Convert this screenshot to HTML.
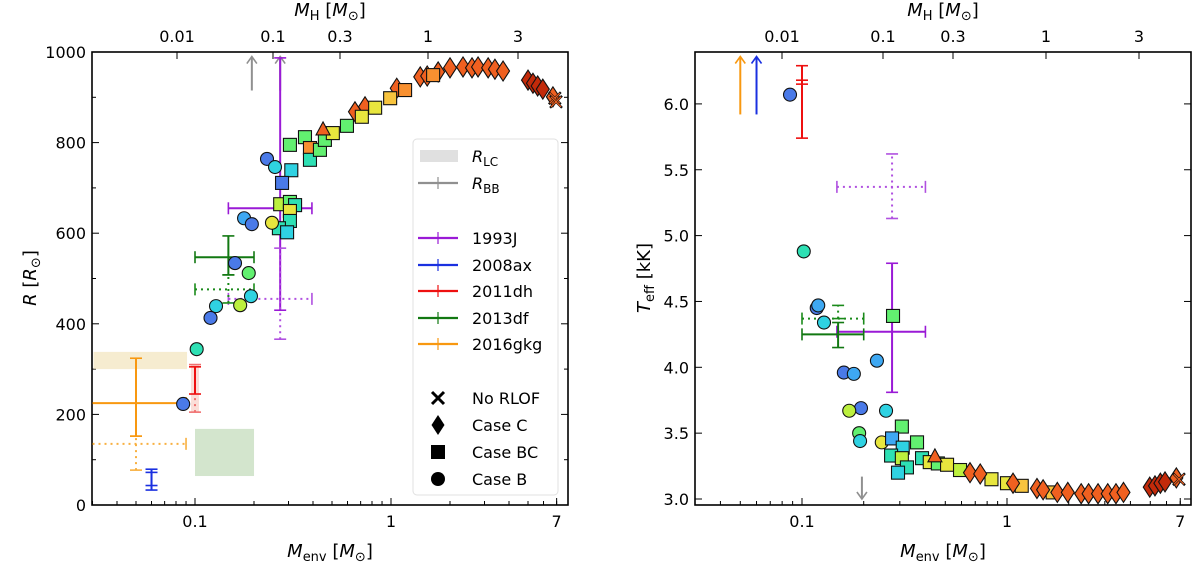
<!DOCTYPE html>
<html><head><meta charset="utf-8">
<style>
body{margin:0;background:#fff;}
svg{display:block;font-family:"DejaVu Sans","Liberation Sans",sans-serif;}
</style></head>
<body>
<svg id="fig" width="1200" height="562" viewBox="0 0 1200 562"></svg>
<script>
// ---------- DATA ----------
const colors = {bl:'#4a7ae8',lb:'#3ea8f2',cy:'#2fd2e2',te:'#2ee0b4',gr:'#62f070',yg:'#bcf03e',ye:'#e8e63e',yo:'#f8c43e',or:'#f89030',ro:'#f06020',dr:'#c22a0a'};
const leftMenv = [0.655,0.737,1.07,1.41,1.53,1.74,2.0,2.33,2.59,2.78,3.13,3.39,3.73,5.0,5.3,5.6,5.95,6.7,
 0.305,0.364,0.386,0.386,0.434,0.46,0.505,0.596,0.71,0.83,0.99,1.18,1.64,
 0.31,0.278,0.272,0.305,0.324,0.305,0.305,0.268,0.295,
 0.233,0.256,0.178,0.195,0.247,0.16,0.188,0.193,0.17,0.128,0.12,0.102,0.087,
 0.45,6.85,6.95];
const leftR = [868,879,920,945,947,956,965,967,965,967,965,962,958,938,931,925,918,901,
 795,812,788,762,784,806,821,837,857,877,898,916,949,
 739,711,664,669,662,649,627,611,602,
 764,746,633,620,623,534,512,461,441,439,413,344,223,
 828,898,890];
const leftShape = ['d','d','d','d','d','d','d','d','d','d','d','d','d','d','d','d','d','d',
 's','s','s','s','s','s','s','s','s','s','s','s','s',
 's','s','s','s','s','s','s','s','s',
 'c','c','c','c','c','c','c','c','c','c','c','c','c',
 't','x','x'];
const leftColor = ['ro','ro','ro','ro','ro','ro','ro','ro','ro','ro','ro','ro','ro','dr','dr','dr','dr','ro',
 'gr','gr','or','te','gr','gr','ye','gr','ye','ye','yo','or','or',
 'cy','bl','yg','gr','te','ye','te','te','cy',
 'bl','cy','lb','bl','ye','bl','gr','cy','yg','cy','bl','te','bl',
 'ro','ro','ro'];
const rightMenv = [0.0874,0.102,0.118,0.12,0.128,0.232,0.16,0.179,0.194,0.17,0.257,0.19,0.192,0.245,
 0.278,0.307,0.275,0.31,0.364,0.272,0.307,0.325,0.294,0.385,0.42,0.46,0.51,0.59,0.84,1.0,1.18,1.67,
 0.66,0.74,1.07,1.4,1.5,1.76,1.98,2.3,2.5,2.78,3.1,3.4,3.7,4.97,5.27,5.6,5.9,6.7,
 0.445,6.9];
const rightT = [6.07,4.88,4.45,4.47,4.34,4.05,3.96,3.95,3.69,3.67,3.67,3.5,3.44,3.43,
 4.39,3.55,3.46,3.39,3.43,3.33,3.31,3.24,3.2,3.31,3.28,3.27,3.26,3.22,3.15,3.12,3.1,3.05,
 3.2,3.19,3.12,3.08,3.07,3.05,3.05,3.04,3.04,3.04,3.04,3.04,3.05,3.09,3.1,3.12,3.13,3.16,
 3.32,3.15];
const rightShape = ['c','c','c','c','c','c','c','c','c','c','c','c','c','c',
 's','s','s','s','s','s','s','s','s','s','s','s','s','s','s','s','s','s',
 'd','d','d','d','d','d','d','d','d','d','d','d','d','d','d','d','d','d',
 't','x'];
const rightColor = ['bl','te','bl','lb','cy','lb','bl','lb','bl','yg','cy','gr','cy','ye',
 'gr','gr','lb','cy','gr','te','yg','te','cy','te','ye','gr','ye','yg','ye','ye','yo','yo',
 'ro','ro','ro','ro','ro','ro','ro','ro','ro','ro','ro','ro','ro','dr','dr','dr','dr','ro',
 'ro','ro'];
const rTicks = [0,200,400,600,800,1000];
const tTicks = [3.0,3.5,4.0,4.5,5.0,5.5,6.0];
const xTickVals = [0.1,1,7];
const topTickLabels = ['0.01','0.1','0.3','1','3'];
const topTickLeftPx = [177,273,340,428,518];
const topTickRightPx = [782,883,953,1046,1139];

// ---------- AXES ----------
const NS='http://www.w3.org/2000/svg';
const svg=document.getElementById('fig');
const L={x0:92,x1:568,y0:52,y1:505};
const R={x0:695,x1:1191,y0:52,y1:505};
const xL=m=>391+196*Math.log10(m);
const yL=r=>505-r*0.453;
const xR=m=>1007+205*Math.log10(m);
const yR=t=>499-(t-3)*131.7;
function el(tag,attrs,parent){const e=document.createElementNS(NS,tag);for(const k in attrs)e.setAttribute(k,attrs[k]);(parent||svg).appendChild(e);return e;}
function txt(s,x,y,attrs,parent){const t=el('text',Object.assign({x:x,y:y,'font-size':16,fill:'#000'},attrs||{}),parent);t.textContent=s;return t;}

function frame(P,name){
  const g=el('g',{});
  
  
  el('rect',{x:P.x0,y:P.y0,width:P.x1-P.x0,height:P.y1-P.y0,fill:'none',stroke:'#000','stroke-width':1.6},g);
  return g;
}
function xTicks(P,xf,g){
  for(let d=-2;d<=0;d++)for(let k=1;k<=9;k++){
    const v=k*Math.pow(10,d);const x=xf(v);if(x<P.x0||x>P.x1)continue;
    const len=(k===1)?7:4;
    el('line',{x1:x,x2:x,y1:P.y1,y2:P.y1-len,stroke:'#000','stroke-width':1},g);
  }
  xTickVals.forEach(v=>{const x=xf(v);el('line',{x1:x,x2:x,y1:P.y1,y2:P.y1-7,stroke:'#000','stroke-width':1},g);
    const t=txt(String(v),x,P.y1+22,{'text-anchor':'middle'},g);
    
    });
}
function topTicks(px,P,g){
  topTickLabels.forEach((s,i)=>{
    el('line',{x1:px[i],x2:px[i],y1:P.y0,y2:P.y0+7,stroke:'#000','stroke-width':1},g);
    const t=txt(s,px[i],P.y0-10,{'text-anchor':'middle'},g);
    
    
  });
}
const gL=frame(L,'left');
xTicks(L,xL,gL);topTicks(topTickLeftPx,L,gL);
for(let r=0;r<=1000;r+=100){const y=yL(r);const len=(r%200===0)?7:4;
  el('line',{x1:L.x0,x2:L.x0+len,y1:y,y2:y,stroke:'#000'},gL);
  el('line',{x1:L.x1,x2:L.x1-len,y1:y,y2:y,stroke:'#000'},gL);}
rTicks.forEach(r=>{const t=txt(String(r),L.x0-6,yL(r)+6,{'text-anchor':'end'},gL);
  
  });
const gR=frame(R,'right');
xTicks(R,xR,gR);topTicks(topTickRightPx,R,gR);
tTicks.forEach(v=>{const y=yR(v);
  el('line',{x1:R.x0,x2:R.x0+7,y1:y,y2:y,stroke:'#000'},gR);
  el('line',{x1:R.x1,x2:R.x1-7,y1:y,y2:y,stroke:'#000'},gR);
  const t=txt(v.toFixed(1),R.x0-6,y+6,{'text-anchor':'end'},gR);
  
  });

function mathLabel(x,y,main,sub,unit,attrs,name){
  const t=el('text',Object.assign({x:x,y:y,'font-size':18,'text-anchor':'middle'},attrs||{}));
  t.innerHTML='<tspan font-style="italic">'+main+'</tspan><tspan font-size="13" dy="4">'+sub+'</tspan><tspan dy="-4">'+unit+'</tspan>';
  
  
  return t;
}
mathLabel(330,557,'M','env','  [<tspan font-style="italic">M</tspan><tspan font-size="13" dy="4">⊙</tspan><tspan dy="-4">]</tspan>',{},'x-axis-title-left');
mathLabel(943,557,'M','env','  [<tspan font-style="italic">M</tspan><tspan font-size="13" dy="4">⊙</tspan><tspan dy="-4">]</tspan>',{},'x-axis-title-right');
mathLabel(330,16,'M','H',' [<tspan font-style="italic">M</tspan><tspan font-size="13" dy="4">⊙</tspan><tspan dy="-4">]</tspan>',{},'top-axis-title-left');
mathLabel(943,16,'M','H',' [<tspan font-style="italic">M</tspan><tspan font-size="13" dy="4">⊙</tspan><tspan dy="-4">]</tspan>',{},'top-axis-title-right');
(function(){const t=el('text',{x:0,y:0,'font-size':18,'text-anchor':'middle',transform:'translate(36,278) rotate(-90)'});
t.innerHTML='<tspan font-style="italic">R</tspan> [<tspan font-style="italic">R</tspan><tspan font-size="13" dy="4">⊙</tspan><tspan dy="-4">]</tspan>';
})();
(function(){const t=el('text',{x:0,y:0,'font-size':18,'text-anchor':'middle',transform:'translate(650,278) rotate(-90)'});
t.innerHTML='<tspan font-style="italic">T</tspan><tspan font-size="13" dy="4">eff</tspan><tspan dy="-4"> [kK]</tspan>';
})();

// ---------- OBSERVATIONAL ----------
const obs=el('g',{});

el('rect',{x:xL(0.03)+1,y:yL(338),width:xL(0.09)-xL(0.03),height:yL(300)-yL(338),fill:'#f0dfb0',opacity:0.6},obs);
el('rect',{x:xL(0.1),y:yL(168),width:xL(0.2)-xL(0.1),height:yL(64)-yL(168),fill:'#a8cc9c',opacity:0.5},obs);
el('rect',{x:xL(0.1)-4,y:yL(310),width:8,height:yL(205)-yL(310),fill:'#f0a090',opacity:0.35},obs);

function ebar(xf,yf,cx,cy,xlo,xhi,ylo,yhi,color,dotted,capX,capY,name){
  const g=el('g',{},obs);
  
  
  const st={stroke:color,'stroke-width':2,fill:'none'};
  if(dotted){st['stroke-dasharray']='2,4';}
  const X=xf(cx),Y=yf(cy);
  if(xlo!==null){el('line',Object.assign({x1:xf(xlo),x2:xf(xhi),y1:Y,y2:Y},st),g);
    if(capX){[xlo,xhi].forEach(v=>{if(xf(v)>L.x0+2&&xf(v)<1190) el('line',{x1:xf(v),x2:xf(v),y1:Y-6,y2:Y+6,stroke:color,'stroke-width':1.6},g);});}}
  if(ylo!==null){el('line',Object.assign({x1:X,x2:X,y1:yf(ylo),y2:yf(yhi)},st),g);
    if(capY){[ylo,yhi].forEach(v=>el('line',{x1:X-6,x2:X+6,y1:yf(v),y2:yf(v),stroke:color,'stroke-width':1.6},g));}}
}
function arrow(x,y1,y2,color,name){
  const g=el('g',{},obs);
  
  
  el('line',{x1:x,x2:x,y1:y1,y2:y2,stroke:color,'stroke-width':2},g);
  const d=y2<y1?1:-1;
  el('path',{d:`M${x-5},${y2+d*7} L${x},${y2} L${x+5},${y2+d*7}`,stroke:color,'stroke-width':1.6,fill:'none'},g);
}
arrow(xL(0.195),yL(915),yL(990),'#909090','rbb-arrow-1');
arrow(xL(0.272),yL(915),yL(990),'#909090','rbb-arrow-2');
ebar(xL,yL,0.272,655,0.148,0.395,430,987,'#9a1ad6',false,true,true,'err-1993j');
ebar(xL,yL,0.272,455,0.148,0.395,366,567,'#b050e0',true,true,true,'err-1993j-bb');
ebar(xL,yL,0.148,476,0.1,0.2,446,508,'#1a8a1a',true,true,true,'err-2013df-bb');
ebar(xL,yL,0.148,547,0.1,0.2,508,594,'#127812',false,true,true,'err-2013df');
ebar(xL,yL,0.1,275,null,null,205,310,'#f07070',true,false,true,'err-2011dh-bb');
ebar(xL,yL,0.1,275,null,null,245,305,'#ee1010',false,false,true,'err-2011dh');
ebar(xL,yL,0.05,135,0.03,0.09,77,152,'#f8b040',true,true,true,'err-2016gkg-bb');
ebar(xL,yL,0.05,225,0.03,0.09,152,324,'#f89810',false,true,true,'err-2016gkg');
ebar(xL,yL,0.06,55,null,null,33,72,'#1a30e0',false,false,true,'err-2008ax');
ebar(xL,yL,0.06,55,null,null,43,79,'#1a30e0',false,false,true,'err-2008ax-2');
arrow(xR(0.05),yR(5.92),yR(6.36),'#f89810','teff-arrow-2016gkg');
arrow(xR(0.06),yR(5.92),yR(6.36),'#1a30e0','teff-arrow-2008ax');
ebar(xR,yR,0.1,6.0,null,null,5.74,6.29,'#ee1010',false,false,true,'teff-err-2011dh');
ebar(xR,yR,0.1,6.16,null,null,6.15,6.18,'#ee1010',false,false,true,'teff-err-2011dh-2');
ebar(xR,yR,0.275,5.37,0.148,0.4,5.13,5.62,'#b050e0',true,true,true,'teff-err-1993j-bb');
ebar(xR,yR,0.275,4.27,0.148,0.4,3.81,4.79,'#9a1ad6',false,true,true,'teff-err-1993j');
ebar(xR,yR,0.15,4.37,0.1,0.2,4.37,4.47,'#1a8a1a',true,true,true,'teff-err-2013df-bb');
ebar(xR,yR,0.15,4.25,0.1,0.2,4.15,4.34,'#127812',false,true,true,'teff-err-2013df');
arrow(xR(0.196),yR(3.17),yR(3.0),'#909090','teff-arrow-bb');

// ---------- MODEL MARKERS ----------
function marker(g,shape,x,y,c){
  const a={fill:c,stroke:'#111','stroke-width':1.1};
  let e;
  if(shape==='c') e=el('circle',Object.assign({cx:x,cy:y,r:6.5},a),g);
  else if(shape==='s') e=el('rect',Object.assign({x:x-6.5,y:y-6.5,width:13,height:13},a),g);
  else if(shape==='d') e=el('path',Object.assign({d:`M${x},${y-10} L${x+6.5},${y} L${x},${y+10} L${x-6.5},${y} Z`},a),g);
  else if(shape==='t') e=el('path',Object.assign({d:`M${x},${y-8} L${x+7},${y+5} L${x-7},${y+5} Z`},a),g);
  else { e=el('path',{d:`M${x-6},${y-6} L${x+6},${y+6} M${x+6},${y-6} L${x-6},${y+6}`,stroke:'#111','stroke-width':2.4},g);
         el('path',{d:`M${x-5},${y-5} L${x+5},${y+5} M${x+5},${y-5} L${x-5},${y+5}`,stroke:c,'stroke-width':1.2},g); }
  return e;
}
const mL=el('g',{});

leftMenv.forEach((m,i)=>{const e=marker(mL,leftShape[i],xL(m),yL(leftR[i]),colors[leftColor[i]]);
  
  });
const mR=el('g',{});

rightMenv.forEach((m,i)=>{const e=marker(mR,rightShape[i],xR(m),yR(rightT[i]),colors[rightColor[i]]);
  
  });

// ---------- LEGEND ----------
const lg=el('g',{});

el('rect',{x:413,y:139,width:145,height:356,rx:4,fill:'#fff',stroke:'#ddd','stroke-width':1,opacity:0.9},lg);
el('rect',{x:420,y:150,width:38,height:12,fill:'#e0e0e0'},lg);
function legText(y,html,name){const t=el('text',{x:472,y:y+6,'font-size':16},lg);t.innerHTML=html;
  }
legText(156,'<tspan font-style="italic">R</tspan><tspan font-size="12" dy="4">LC</tspan>','legend-rlc');
el('line',{x1:418,x2:458,y1:183,y2:183,stroke:'#909090','stroke-width':2.2},lg);
el('line',{x1:438,x2:438,y1:177,y2:189,stroke:'#909090','stroke-width':1.2},lg);
legText(183,'<tspan font-style="italic">R</tspan><tspan font-size="12" dy="4">BB</tspan>','legend-rbb');
const sn=[['1993J','#9a1ad6',238],['2008ax','#1a30e0',265],['2011dh','#ee1010',291],['2013df','#127812',318],['2016gkg','#f89810',344]];
sn.forEach(s=>{el('line',{x1:418,x2:458,y1:s[2],y2:s[2],stroke:s[1],'stroke-width':2.2},lg);
  el('line',{x1:438,x2:438,y1:s[2]-6,y2:s[2]+6,stroke:s[1],'stroke-width':1.2},lg);
  legText(s[2],s[0],'legend-'+s[0].toLowerCase());});
const ms=[['x','No RLOF',398],['d','Case C',425],['s','Case BC',452],['c','Case B',479]];
ms.forEach(s=>{const x=438,y=s[2];
  if(s[0]==='x') el('path',{d:`M${x-6},${y-6} L${x+6},${y+6} M${x+6},${y-6} L${x-6},${y+6}`,stroke:'#000','stroke-width':3},lg);
  else if(s[0]==='d') el('path',{d:`M${x},${y-10} L${x+6.5},${y} L${x},${y+10} L${x-6.5},${y} Z`,fill:'#000'},lg);
  else if(s[0]==='s') el('rect',{x:x-7,y:y-7,width:14,height:14,fill:'#000'},lg);
  else el('circle',{cx:x,cy:y,r:7,fill:'#000'},lg);
  legText(y,s[1],'legend-'+s[1].toLowerCase().replace(' ','-'));});
</script>
</body></html>
